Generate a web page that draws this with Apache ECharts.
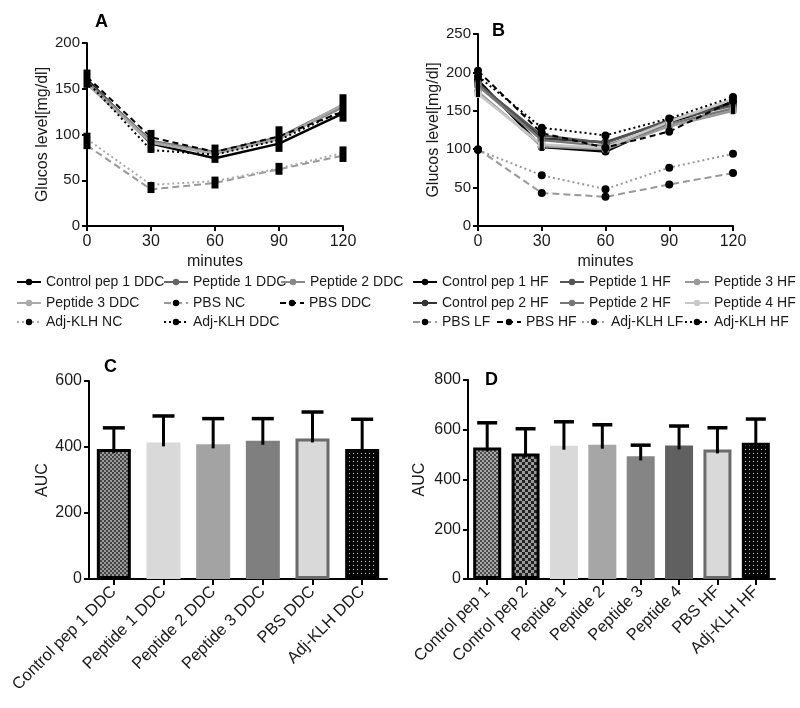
<!DOCTYPE html>
<html><head><meta charset="utf-8">
<script src="https://cdn.jsdelivr.net/npm/echarts@6/dist/echarts.min.js"></script>
<style>html,body{margin:0;padding:0;background:#fff}#c{width:800px;height:708px}</style>
</head><body><div id="c"></div>
<script>
// ---------- DATA ----------
const minutes = [0, 30, 60, 90, 120];

// Panel A (DDC)
const a_control1 = [160, 90, 74, 90, 123];
const a_pep1 = [158, 93, 81, 97, 132];
const a_pep2 = [157, 92, 80, 96, 130];
const a_pep3 = [155, 91, 79, 95, 133];
const a_pbsNC = [88, 40, 47, 62, 77];
const a_pbsDDC = [163, 97, 81, 98, 125];
const a_adjNC = [95, 45, 49, 63, 80];
const a_adjDDC = [158, 83, 78, 94, 126];
const a_errLow = [151, 80, 69, 81, 114];
const a_errHigh = [171, 105, 89, 109, 144];
const a_ncErrLow = [84, 36, 41, 56, 70];
const a_ncErrHigh = [102, 48, 54, 69, 87];

// Panel B (HF)
const b_control1 = [190, 103, 97, 135, 160];
const b_control2 = [186, 114, 109, 137, 162];
const b_pep1 = [185, 118, 108, 138, 157];
const b_pep2 = [183, 112, 104, 133, 153];
const b_pep3 = [175, 104, 100, 130, 150];
const b_pep4 = [172, 106, 102, 136, 165];
const b_pbsLF = [100, 43, 38, 54, 69];
const b_pbsHF = [202, 121, 102, 123, 163];
const b_adjLF = [99, 66, 48, 76, 94];
const b_adjHF = [195, 128, 118, 140, 168];
const b_errLow = [168, 98, 95, 118, 146];
const b_errHigh = [207, 131, 121, 144, 171];

// Panel C (AUC DDC)
const c_categories = ['Control pep 1 DDC', 'Peptide 1 DDC', 'Peptide 2 DDC', 'Peptide 3 DDC', 'PBS DDC', 'Adj-KLH DDC'];
const c_auc = [394, 414, 408, 419, 426, 394];
const c_err = [64, 80, 78, 67, 80, 90];

// Panel D (AUC HF)
const d_categories = ['Control pep 1', 'Control pep 2', 'Peptide 1', 'Peptide 2', 'Peptide 3', 'Peptide 4', 'PBS HF', 'Adj-KLH HF'];
const d_auc = [529, 505, 536, 540, 493, 537, 521, 548];
const d_err = [99, 99, 96, 80, 45, 78, 87, 95];

// ---------- STYLE HELPERS ----------
function checker(size, c1, c2) {
  const cv = document.createElement('canvas');
  cv.width = size * 2; cv.height = size * 2;
  const g = cv.getContext('2d');
  g.fillStyle = c1; g.fillRect(0, 0, size * 2, size * 2);
  g.fillStyle = c2; g.fillRect(0, 0, size, size); g.fillRect(size, size, size, size);
  return { image: cv, repeat: 'repeat' };
}
function dots() {
  const cv = document.createElement('canvas');
  cv.width = 4; cv.height = 4;
  const g = cv.getContext('2d');
  g.fillStyle = '#050505'; g.fillRect(0, 0, 4, 4);
  g.fillStyle = '#d0d0d0'; g.fillRect(1, 1, 1, 1);
  return { image: cv, repeat: 'repeat' };
}

const FONT = "'Liberation Sans', Arial, sans-serif";
const TXT = '#1a1a1a';

function lineSeries(name, data, color, type, width, sym, symColor, xi) {
  return {
    type: 'line', name, xAxisIndex: xi, yAxisIndex: xi,
    data: minutes.map((m, i) => [m, data[i]]),
    symbol: 'circle', symbolSize: sym, showSymbol: true,
    lineStyle: { color, width, type },
    itemStyle: { color: symColor || color },
    z: 3
  };
}
function rangeBars(lows, highs, xi, w) {
  return {
    type: 'custom', xAxisIndex: xi, yAxisIndex: xi, z: 5, silent: true,
    data: minutes.map((m, i) => [m, lows[i], highs[i]]),
    renderItem: (params, api) => {
      const p1 = api.coord([api.value(0), api.value(1)]);
      const p2 = api.coord([api.value(0), api.value(2)]);
      return { type: 'rect', shape: { x: p1[0] - w / 2, y: p2[1], width: w, height: p1[1] - p2[1] }, style: { fill: '#000' } };
    }
  };
}
function errBars(vals, errs, xi, cap) {
  return {
    type: 'custom', xAxisIndex: xi, yAxisIndex: xi, z: 6, silent: true,
    data: vals.map((v, i) => [i, v, v + errs[i]]),
    renderItem: (params, api) => {
      const b = api.coord([api.value(0), api.value(1)]);
      const t = api.coord([api.value(0), api.value(2)]);
      return { type: 'group', children: [
        { type: 'line', shape: { x1: t[0], y1: t[1], x2: b[0], y2: b[1] + 4 }, style: { stroke: '#000', lineWidth: 3 } },
        { type: 'line', shape: { x1: t[0] - cap, y1: t[1], x2: t[0] + cap, y2: t[1] }, style: { stroke: '#000', lineWidth: 3.5 } }
      ] };
    }
  };
}

const axisLine = { show: true, lineStyle: { color: '#000', width: 2 } };
const axisTick = { show: true, inside: false, length: 5, lineStyle: { color: '#000', width: 2 } };

function lineX(gi) {
  return {
    type: 'value', gridIndex: gi, min: 0, max: 120, interval: 30,
    axisLine, axisTick, splitLine: { show: false },
    axisLabel: { color: TXT, fontSize: 16, fontFamily: FONT, margin: 8 },
    name: 'minutes', nameLocation: 'middle', nameGap: 28,
    nameTextStyle: { color: TXT, fontSize: 16, fontFamily: FONT }
  };
}
function valY(gi, max, interval, name, gap, fs) {
  return {
    type: 'value', gridIndex: gi, min: 0, max, interval,
    axisLine, axisTick, splitLine: { show: false },
    axisLabel: { color: TXT, fontSize: fs, fontFamily: FONT, margin: 7 },
    name, nameLocation: 'middle', nameGap: gap,
    nameTextStyle: { color: TXT, fontSize: 16, fontFamily: FONT }
  };
}
function catX(gi, cats) {
  return {
    type: 'category', gridIndex: gi, data: cats,
    axisLine, axisTick: { show: true, alignWithLabel: true, length: 6, lineStyle: { color: '#000', width: 2 } },
    axisLabel: { color: TXT, fontSize: 16.5, fontFamily: FONT, rotate: 45, margin: 10, interval: 0 },
    splitLine: { show: false }
  };
}

function leg(name, textX, rowY) {
  return {
    data: [name], left: textX - 24 - 5, top: rowY - 8, padding: 0,
    itemWidth: 24, itemHeight: 8, selectedMode: false,
    textStyle: { color: TXT, fontSize: 14, fontFamily: FONT }
  };
}

// ---------- SERIES ----------
const series = [
  lineSeries('Control pep 1 DDC', a_control1, '#000', 'solid', 2.5, 6, null, 0),
  lineSeries('Peptide 1 DDC', a_pep1, '#666', 'solid', 2.5, 6, null, 0),
  lineSeries('Peptide 2 DDC', a_pep2, '#888', 'solid', 2.5, 6, null, 0),
  lineSeries('Peptide 3 DDC', a_pep3, '#aaa', 'solid', 2.5, 6, null, 0),
  lineSeries('PBS NC', a_pbsNC, '#999', [7, 4], 2, 6, '#000', 0),
  lineSeries('PBS DDC', a_pbsDDC, '#000', [6, 4], 2, 6, '#000', 0),
  lineSeries('Adj-KLH NC', a_adjNC, '#aaa', [2, 3], 2, 6, '#000', 0),
  lineSeries('Adj-KLH DDC', a_adjDDC, '#000', [2, 3], 2, 6, '#000', 0),
  rangeBars(a_errLow, a_errHigh, 0, 7),
  rangeBars(a_ncErrLow, a_ncErrHigh, 0, 7),

  lineSeries('Control pep 1 HF', b_control1, '#000', 'solid', 2.5, 8, null, 1),
  lineSeries('Control pep 2 HF', b_control2, '#333', 'solid', 2.5, 8, null, 1),
  lineSeries('Peptide 1 HF', b_pep1, '#555', 'solid', 2.5, 8, null, 1),
  lineSeries('Peptide 2 HF', b_pep2, '#777', 'solid', 2.5, 8, null, 1),
  lineSeries('Peptide 3 HF', b_pep3, '#999', 'solid', 2.5, 8, null, 1),
  lineSeries('Peptide 4 HF', b_pep4, '#c8c8c8', 'solid', 2.5, 8, null, 1),
  lineSeries('PBS LF', b_pbsLF, '#999', [7, 4], 2, 8, '#000', 1),
  lineSeries('PBS HF', b_pbsHF, '#000', [6, 4], 2, 8, '#000', 1),
  lineSeries('Adj-KLH LF', b_adjLF, '#999', [2, 3], 2, 8, '#000', 1),
  lineSeries('Adj-KLH HF', b_adjHF, '#000', [2, 3], 2, 8, '#000', 1),
  rangeBars(b_errLow, b_errHigh, 1, 4),

  {
    type: 'bar', xAxisIndex: 2, yAxisIndex: 2, barWidth: 34, z: 2,
    data: c_auc.map((v, i) => ({
      value: v,
      itemStyle: [
        { color: checker(2, '#9a9a9a', '#444'), borderColor: '#000', borderWidth: 3 },
        { color: '#d9d9d9' },
        { color: '#a3a3a3' },
        { color: '#7f7f7f' },
        { color: '#d9d9d9', borderColor: '#6b6b6b', borderWidth: 3 },
        { color: dots(), borderColor: '#000', borderWidth: 3 }
      ][i]
    }))
  },
  errBars(c_auc, c_err, 2, 11),

  {
    type: 'bar', xAxisIndex: 3, yAxisIndex: 3, barWidth: 28, z: 2,
    data: d_auc.map((v, i) => ({
      value: v,
      itemStyle: [
        { color: checker(2, '#a8a8a8', '#4a4a4a'), borderColor: '#000', borderWidth: 3 },
        { color: checker(3, '#9a9a9a', '#222'), borderColor: '#000', borderWidth: 3 },
        { color: '#d9d9d9' },
        { color: '#a6a6a6' },
        { color: '#858585' },
        { color: '#606060' },
        { color: '#d9d9d9', borderColor: '#6b6b6b', borderWidth: 3 },
        { color: dots(), borderColor: '#000', borderWidth: 3 }
      ][i]
    }))
  },
  errBars(d_auc, d_err, 3, 10)
];

const legends = [
  leg('Control pep 1 DDC', 45, 283), leg('Peptide 1 DDC', 192, 283), leg('Peptide 2 DDC', 309, 283),
  leg('Peptide 3 DDC', 45, 304), leg('PBS NC', 192, 304), leg('PBS DDC', 308, 304),
  leg('Adj-KLH NC', 45, 323), leg('Adj-KLH DDC', 192, 323),
  leg('Control pep 1 HF', 441, 283), leg('Peptide 1 HF', 588, 283), leg('Peptide 3 HF', 713, 283),
  leg('Control pep 2 HF', 441, 304), leg('Peptide 2 HF', 588, 304), leg('Peptide 4 HF', 713, 304),
  leg('PBS LF', 441, 323), leg('PBS HF', 525, 323), leg('Adj-KLH LF', 610, 323), leg('Adj-KLH HF', 713, 323)
];

const titleStyle = { fontSize: 18, fontWeight: 'bold', color: '#000', fontFamily: FONT };
const option = {
  animation: false,
  backgroundColor: '#fff',
  title: [
    { text: 'A', left: 95, top: 13, textStyle: titleStyle, padding: 0 },
    { text: 'B', left: 492, top: 22, textStyle: titleStyle, padding: 0 },
    { text: 'C', left: 104, top: 358, textStyle: titleStyle, padding: 0 },
    { text: 'D', left: 485, top: 371, textStyle: titleStyle, padding: 0 }
  ],
  grid: [
    { left: 87, top: 43, width: 256, height: 183 },
    { left: 478, top: 34, width: 255, height: 192 },
    { left: 89, top: 381, width: 298, height: 198 },
    { left: 468, top: 380, width: 307, height: 199 }
  ],
  xAxis: [lineX(0), lineX(1), catX(2, c_categories), catX(3, d_categories)],
  yAxis: [
    valY(0, 200, 50, 'Glucos level[mg/dl]', 34, 15),
    valY(1, 250, 50, 'Glucos level[mg/dl]', 34, 15),
    valY(2, 600, 200, 'AUC', 38, 16),
    valY(3, 800, 200, 'AUC', 40, 16)
  ],
  legend: legends,
  series
};
echarts.init(document.getElementById('c'), null, { renderer: 'canvas' }).setOption(option);
</script>
</body></html>
